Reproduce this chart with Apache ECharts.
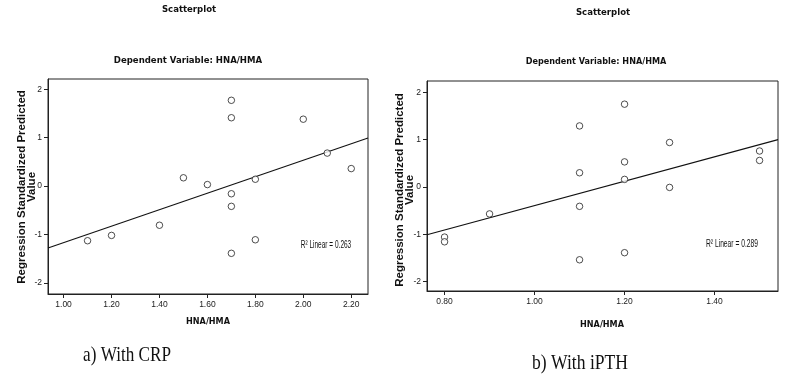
<!DOCTYPE html>
<html><head><meta charset="utf-8">
<script src="https://cdn.jsdelivr.net/npm/echarts@6/dist/echarts.min.js"></script>
<style>html,body{margin:0;padding:0;background:#fff}#c{width:800px;height:380px}</style>
</head><body><div id="c"></div>
<script>
// Panel a) With CRP
const crpX = [1.1, 1.2, 1.4, 1.5, 1.6, 1.7, 1.7, 1.7, 1.7, 1.7, 1.8, 1.8, 2.0, 2.1, 2.2];
const crpY = [-1.13, -1.02, -0.81, 0.17, 0.03, 1.77, 1.41, -0.16, -0.42, -1.39, 0.14, -1.11, 1.38, 0.68, 0.36];
const crpFitX = [0.935, 2.27];
const crpFitY = [-1.28, 0.99];
const crpXTicks = [1.0, 1.2, 1.4, 1.6, 1.8, 2.0, 2.2];
// Panel b) With iPTH
const pthX = [0.8, 0.8, 0.9, 1.1, 1.1, 1.1, 1.1, 1.2, 1.2, 1.2, 1.2, 1.3, 1.3, 1.5, 1.5];
const pthY = [-1.06, -1.16, -0.57, 1.29, 0.30, -0.41, -1.54, 1.75, 0.53, 0.16, -1.39, 0.94, -0.01, 0.76, 0.56];
const pthFitX = [0.761, 1.541];
const pthFitY = [-1.01, 1.0];
const pthXTicks = [0.8, 1.0, 1.2, 1.4];
const yTicks = [-2, -1, 0, 1, 2];
const r2Labels = ['R\u00B2 Linear = 0.263', 'R\u00B2 Linear = 0.289'];
const titleText = 'Scatterplot';
const subText = 'Dependent Variable: HNA/HMA';
const yName = ['Regression Standardized Predicted', 'Value'];
const xName = 'HNA/HMA';
const captions = ['a) With CRP', 'b) With iPTH'];

const zip = (a, b) => a.map((v, i) => [v, b[i]]);
const tickFont = "'Liberation Sans', Arial, sans-serif";
const boldFont = "'DejaVu Sans Condensed', 'DejaVu Sans', sans-serif";

function xAx(idx, min, max, ticks) {
  return {
    type: 'value', gridIndex: idx, min: min, max: max,
    splitLine: { show: false },
    axisLine: { show: true, onZero: false, lineStyle: { color: '#222', width: 1 } },
    axisTick: { show: true, customValues: ticks, length: 4, lineStyle: { color: '#222' } },
    axisLabel: { customValues: ticks, formatter: v => v.toFixed(2), fontSize: 8.5, fontFamily: tickFont, color: '#222', margin: 6 }
  };
}
function yAx(idx, min, max) {
  return {
    type: 'value', gridIndex: idx, min: min, max: max,
    splitLine: { show: false },
    axisLine: { show: true, onZero: false, lineStyle: { color: '#222', width: 1 } },
    axisTick: { show: true, customValues: yTicks, length: 4, lineStyle: { color: '#222' } },
    axisLabel: { customValues: yTicks, formatter: v => String(v), fontSize: 8.5, fontFamily: tickFont, color: '#222', margin: 6 }
  };
}
function txt(x, y, text, font, extra) {
  return Object.assign({
    type: 'text', x: x, y: y, silent: true,
    style: { text: text, font: font, fill: '#111', textAlign: 'center', textVerticalAlign: 'middle' }
  }, extra || {});
}

const yNameFont = "bold 11.5px 'Liberation Sans', Arial, sans-serif";
const markStyle = { color: '#fff', borderColor: '#222', borderWidth: 1 };
const chart = echarts.init(document.getElementById('c'), null, { renderer: 'canvas' });
chart.setOption({
  animation: false,
  backgroundColor: '#fff',
  grid: [
    { left: 48, top: 79, width: 320, height: 215, show: true, borderColor: '#222', borderWidth: 1 },
    { left: 427, top: 81, width: 351, height: 210, show: true, borderColor: '#222', borderWidth: 1 }
  ],
  xAxis: [xAx(0, 0.935, 2.27, crpXTicks), xAx(1, 0.761, 1.541, pthXTicks)],
  yAxis: [yAx(0, -2.23, 2.21), yAx(1, -2.2, 2.24)],
  series: [
    { type: 'scatter', xAxisIndex: 0, yAxisIndex: 0, data: zip(crpX, crpY), symbol: 'circle', symbolSize: 6.5,
      itemStyle: markStyle, z: 3 },
    { type: 'line', xAxisIndex: 0, yAxisIndex: 0, data: zip(crpFitX, crpFitY), showSymbol: false, symbol: 'none',
      lineStyle: { color: '#111', width: 1.1 }, silent: true, z: 2 },
    { type: 'scatter', xAxisIndex: 1, yAxisIndex: 1, data: zip(pthX, pthY), symbol: 'circle', symbolSize: 6.5,
      itemStyle: markStyle, z: 3 },
    { type: 'line', xAxisIndex: 1, yAxisIndex: 1, data: zip(pthFitX, pthFitY), showSymbol: false, symbol: 'none',
      lineStyle: { color: '#111', width: 1.1 }, silent: true, z: 2 }
  ],
  graphic: [
    txt(189, 10, titleText, 'bold 9.5px ' + boldFont),
    txt(188, 61, subText, 'bold 9.5px ' + boldFont),
    txt(603, 13, titleText, 'bold 9.5px ' + boldFont),
    txt(596, 62, subText, 'bold 9px ' + boldFont),
    txt(22, 187, yName[0], yNameFont, { rotation: Math.PI / 2 }),
    txt(32, 187, yName[1], yNameFont, { rotation: Math.PI / 2 }),
    txt(400, 190, yName[0], yNameFont, { rotation: Math.PI / 2 }),
    txt(410, 190, yName[1], yNameFont, { rotation: Math.PI / 2 }),
    txt(208, 322, xName, 'bold 9px ' + boldFont),
    txt(602, 325, xName, 'bold 9px ' + boldFont),
    txt(326, 245, r2Labels[0], "10.5px 'Liberation Sans', Arial, sans-serif", { scaleX: 0.62 }),
    txt(732, 244, r2Labels[1], "10.5px 'Liberation Sans', Arial, sans-serif", { scaleX: 0.64 }),
    txt(127, 355, captions[0], "22px 'Liberation Serif', 'Times New Roman', serif", { scaleX: 0.78 }),
    txt(580, 363, captions[1], "22px 'Liberation Serif', 'Times New Roman', serif", { scaleX: 0.8 })
  ]
});
</script></body></html>
